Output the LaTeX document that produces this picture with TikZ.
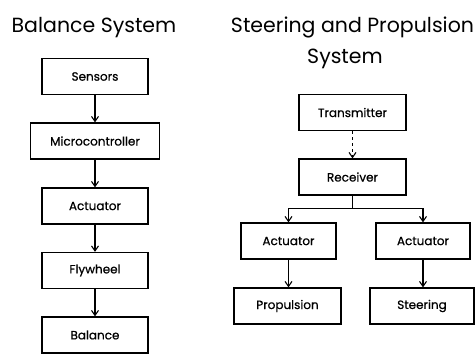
\documentclass[tikz,border=0pt]{standalone}
\usepackage{fontspec}
\setmainfont{Poppins}
\newfontfamily\boxfont{Poppins}[FakeBold=0.6]
\usetikzlibrary{arrows.meta}
\tikzset{
  blk/.style={draw, line width=1.3pt, minimum height=36pt, inner sep=0pt, font=\boxfont\fontsize{12}{14}\selectfont},
  lnk/.style={line width=1.1pt, -{Straight Barb[length=5pt,width=7pt]}},
  ttl/.style={font=\fontsize{20.5}{24}\selectfont, inner sep=0pt, anchor=base}
}
\begin{document}
\begin{tikzpicture}[x=1pt, y=-1pt]
  \useasboundingbox (0,0) rectangle (475,354);
  %
  \node[ttl] (ttlL) at (94,32) {Balance System};
  \node[ttl] (ttlR) at (352.5,32) {Steering and Propulsion};
  \node[ttl] (ttlR2) at (345,63) {System};
  %
  % balance column
  \node[blk, minimum width=106pt] (sens)  at (95,76.5)  {Sensors};
  \node[blk, minimum width=129pt] (micro) at (95,141)   {Microcontroller};
  \node[blk, minimum width=106pt] (act)   at (95,206)   {Actuator};
  \node[blk, minimum width=106pt] (fly)   at (95,270.5) {Flywheel};
  \node[blk, minimum width=106pt] (bal)   at (95,335)   {Balance};
  %
  \draw[lnk] (sens)  -- (micro);
  \draw[lnk] (micro) -- (act);
  \draw[lnk] (act)   -- (fly);
  \draw[lnk] (fly)   -- (bal);
  %
  % steering and propulsion
  \node[blk, minimum width=107pt] (trans) at (352.5,112.5) {Transmitter};
  \node[blk, minimum width=107pt] (recv)  at (352.5,177)   {Receiver};
  \node[blk, minimum width=95pt]  (actL)  at (288.5,241)   {Actuator};
  \node[blk, minimum width=94pt]  (actR)  at (423,241)     {Actuator};
  \node[blk, minimum width=107pt] (prop)  at (287.5,306)   {Propulsion};
  \node[blk, minimum width=104pt] (steer) at (422,306)     {Steering};
  %
  \draw[lnk, dashed] (trans) -- (recv);
  \draw[line width=1.1pt] (recv.south) -- ++(0,13) coordinate (fork);
  \draw[lnk] (fork) -| (actL.north);
  \draw[lnk] (fork) -| (actR.north);
  \draw[lnk] (actL.south) -- (actL.south |- prop.north);
  \draw[lnk] (actR.south) -- (actR.south |- steer.north);
\end{tikzpicture}
\end{document}
